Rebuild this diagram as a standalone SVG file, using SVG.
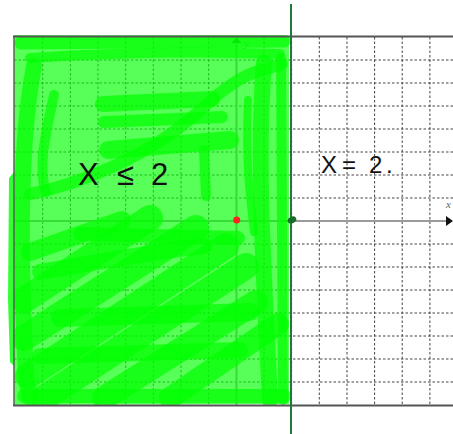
<svg xmlns="http://www.w3.org/2000/svg" width="453" height="434" viewBox="0 0 453 434">
  <style>
    .grid line { stroke: #444; stroke-width: 1; stroke-dasharray: 2.5 2; }
    .s { fill: none; stroke: #00ff00; stroke-opacity: 0.7; stroke-linecap: round; stroke-linejoin: round; }
    .hand { font-family: "Liberation Sans", Arial, sans-serif; fill: #111; }
    .axlbl { font-family: "Liberation Serif", serif; font-style: italic; font-size: 11px; fill: #666; }
  </style>
  <defs>
    <clipPath id="clipRegion">
      <rect x="13" y="35" width="277" height="371"/>
    </clipPath>
  </defs>
  <rect width="453" height="434" fill="#ffffff"/>
  <g id="grid" class="grid">
    <line x1="42.7" y1="37" x2="42.7" y2="405"/>
    <line x1="70.4" y1="37" x2="70.4" y2="405"/>
    <line x1="98" y1="37" x2="98" y2="405"/>
    <line x1="125.7" y1="37" x2="125.7" y2="405"/>
    <line x1="153.3" y1="37" x2="153.3" y2="405"/>
    <line x1="181" y1="37" x2="181" y2="405"/>
    <line x1="208.7" y1="37" x2="208.7" y2="405"/>
    <line x1="264" y1="37" x2="264" y2="405"/>
    <line x1="291.6" y1="37" x2="291.6" y2="405"/>
    <line x1="319.3" y1="37" x2="319.3" y2="405"/>
    <line x1="347" y1="37" x2="347" y2="405"/>
    <line x1="374.6" y1="37" x2="374.6" y2="405"/>
    <line x1="402.2" y1="37" x2="402.2" y2="405"/>
    <line x1="429.9" y1="37" x2="429.9" y2="405"/>
    <line x1="14" y1="60" x2="453" y2="60"/>
    <line x1="14" y1="83" x2="453" y2="83"/>
    <line x1="14" y1="106" x2="453" y2="106"/>
    <line x1="14" y1="129" x2="453" y2="129"/>
    <line x1="14" y1="152" x2="453" y2="152"/>
    <line x1="14" y1="175" x2="453" y2="175"/>
    <line x1="14" y1="198" x2="453" y2="198"/>
    <line x1="14" y1="244" x2="453" y2="244"/>
    <line x1="14" y1="267" x2="453" y2="267"/>
    <line x1="14" y1="290" x2="453" y2="290"/>
    <line x1="14" y1="313" x2="453" y2="313"/>
    <line x1="14" y1="336" x2="453" y2="336"/>
    <line x1="14" y1="359" x2="453" y2="359"/>
    <line x1="14" y1="382" x2="453" y2="382"/>
  </g>
  <g id="axes">
    <line x1="14" y1="221" x2="447" y2="221" stroke="#9a9a9a" stroke-width="2"/>
    <polygon points="446,216 453,221 446,226" fill="#111"/>
    <line x1="236.5" y1="405" x2="236.5" y2="42" stroke="#9a9a9a" stroke-width="2"/>
    <polygon points="231.5,43 236.5,37 241.5,43" fill="#444"/>
    <text class="axlbl" x="244" y="47">y</text>
    <text class="axlbl" x="446" y="208">x</text>
  </g>
  <g id="region">
    <path d="M14,172 L9,178 L8,300 L10,362 L14,366 Z" fill="#00ff00" fill-opacity="0.8"/>
    <g clip-path="url(#clipRegion)">
      <path d="M14,35 L289,36 L289,404 L14,405 Z" fill="#00ff00" fill-opacity="0.65"/>
      <path class="s" stroke-width="13" d="M21,43 L284,41"/>
      <path class="s" stroke-width="10" d="M30,58 C90,54 170,50 280,54"/>
      <path class="s" stroke-width="16" d="M34,66 C22,130 20,210 23,300 S26,380 30,398"/>
      <path class="s" stroke-width="10" d="M54,95 C44,140 38,170 46,192"/>
      <path class="s" stroke-width="16" d="M103,104 L212,99"/>
      <path class="s" stroke-width="12" d="M104,122 L222,117"/>
      <path class="s" stroke-width="18" d="M108,150 L230,140"/>
      <path class="s" stroke-width="10" d="M204,150 L206,196"/>
      <path class="s" stroke-width="12" d="M30,194 C80,184 150,156 198,112 S258,72 282,64"/>
      <path class="s" stroke-width="16" d="M264,62 C257,150 262,250 270,400"/>
      <path class="s" stroke-width="10" d="M281,58 L283,400"/>
      <path class="s" stroke-width="8" d="M248,100 C245,160 250,200 254,232"/>
      <path class="s" stroke-width="26" d="M24,300 L150,218"/>
      <path class="s" stroke-width="26" d="M24,338 L196,228"/>
      <path class="s" stroke-width="26" d="M28,376 L226,246"/>
      <path class="s" stroke-width="26" d="M44,398 L246,266"/>
      <path class="s" stroke-width="24" d="M104,398 L256,302"/>
      <path class="s" stroke-width="22" d="M170,398 L278,324"/>
      <path class="s" stroke-width="18" d="M30,252 L122,220"/>
      <path class="s" stroke-width="14" d="M24,396 L284,396"/>
      <path class="s" stroke-width="18" d="M60,318 L250,312"/>
      <path class="s" stroke-width="16" d="M40,272 C100,262 150,252 204,246"/>
      <path class="s" stroke-width="14" d="M80,234 L238,238"/>
      <path class="s" stroke-width="16" d="M40,356 L240,350"/>
    </g>
  </g>
  <g id="frame" fill="none" stroke="#555" stroke-width="2">
    <line x1="13" y1="36.5" x2="453" y2="36.5"/>
    <line x1="13" y1="405.5" x2="453" y2="405.5"/>
    <line x1="14" y1="36" x2="14" y2="406" stroke-opacity="0.7"/>
  </g>
  <g id="boundary">
    <line x1="291" y1="4" x2="291" y2="434" stroke="#1f7a3c" stroke-width="2"/>
  </g>
  <g id="points">
    <circle cx="236.7" cy="220" r="3.5" fill="#ff2020"/>
    <ellipse cx="292" cy="220" rx="4.5" ry="3.2" transform="rotate(-25 292 220)" fill="#1a6e2c"/>
  </g>
  <g id="labels">
    <text class="hand" font-size="31" y="185"><tspan x="78">X</tspan> <tspan x="117">≤</tspan> <tspan x="151">2</tspan></text>
    <text class="hand" font-size="24" y="173"><tspan x="321">X</tspan> <tspan x="342">=</tspan> <tspan x="369">2</tspan><tspan x="386">.</tspan></text>
  </g>
</svg>
